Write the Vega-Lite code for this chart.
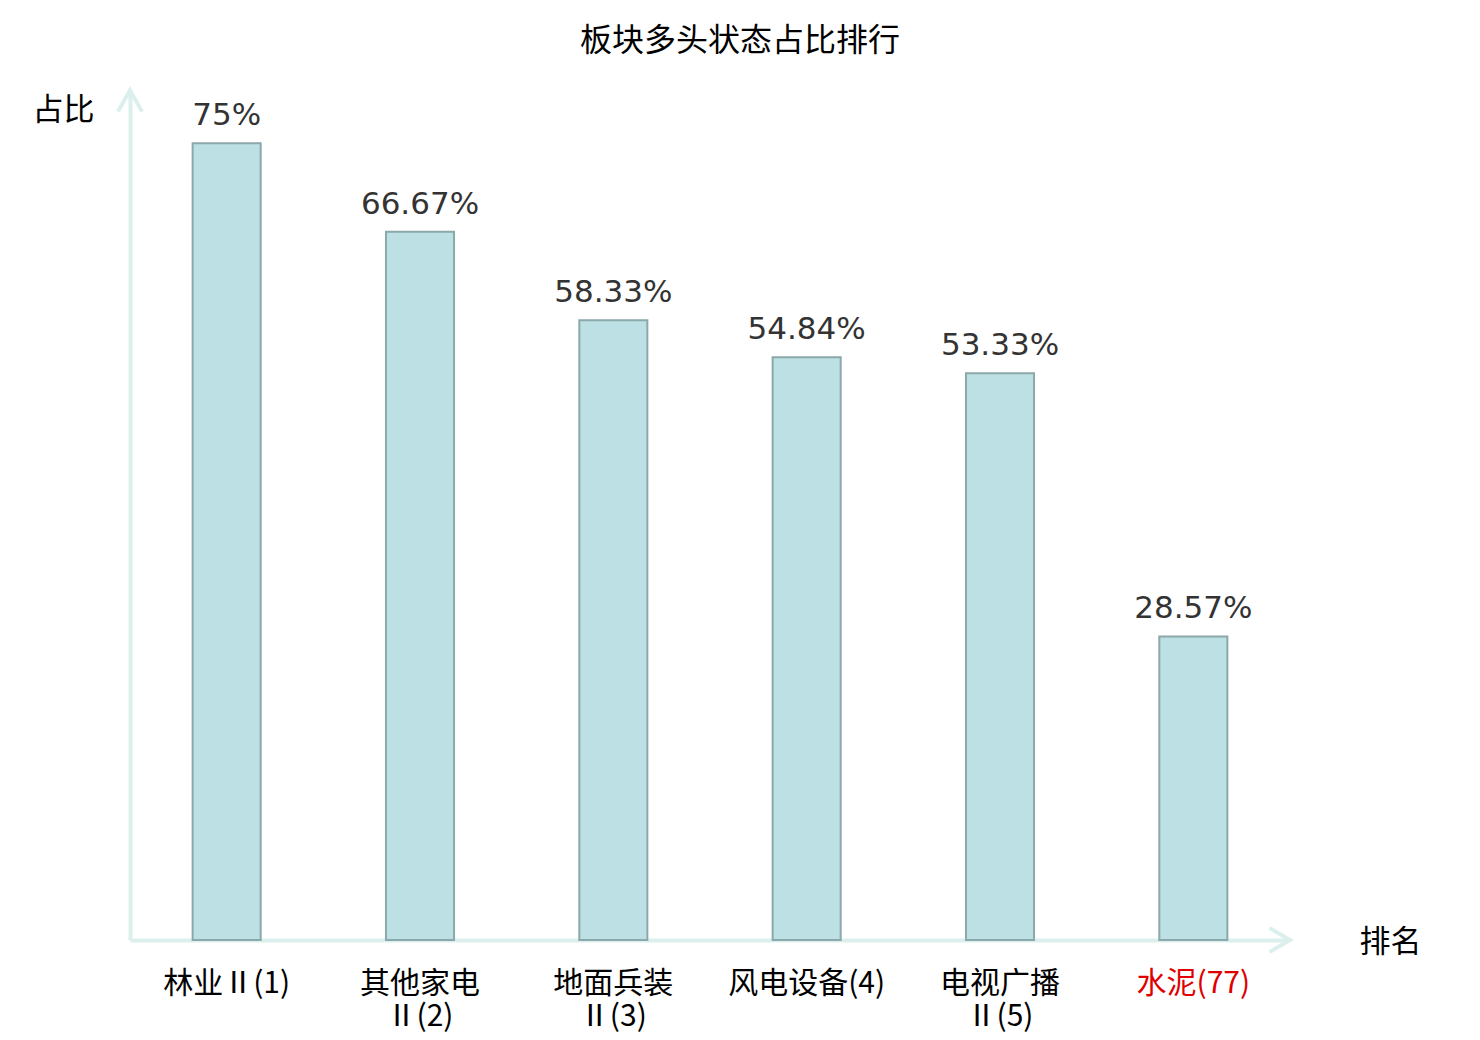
{
  "$schema": "https://vega.github.io/schema/vega-lite/v6.json",
  "width": 1160,
  "height": 850,
  "autosize": "none",
  "padding": {"left": 130, "top": 90, "right": 190, "bottom": 100},
  "background": "white",
  "title": {
    "text": "板块多头状态占比排行",
    "font": "Noto Sans CJK SC",
    "fontSize": 32,
    "fontWeight": "normal",
    "color": "#000000",
    "anchor": "middle",
    "frame": "group",
    "offset": 24,
    "dx": 30
  },
  "datasets": {
    "bars": [
      {"sector": "林业Ⅱ(1)", "share": 0.75},
      {"sector": "其他家电|Ⅱ(2)", "share": 0.6667},
      {"sector": "地面兵装|Ⅱ(3)", "share": 0.5833},
      {"sector": "风电设备(4)", "share": 0.5484},
      {"sector": "电视广播|Ⅱ(5)", "share": 0.5333},
      {"sector": "水泥(77)", "share": 0.2857}
    ],
    "arrows": [
      {"pos": 0, "val": 0.8, "dir": "up"},
      {"pos": 6, "val": 0, "dir": "right"}
    ]
  },
  "layer": [
    {
      "data": {"name": "bars"},
      "encoding": {
        "x": {
          "field": "sector",
          "type": "nominal",
          "sort": null,
          "scale": {"paddingInner": 0.648, "paddingOuter": 0.324},
          "axis": {
            "title": "排名",
            "titleFont": "Noto Sans CJK SC",
            "titleFontSize": 31,
            "titleFontWeight": "normal",
            "titleColor": "#000000",
            "titleX": 1260,
            "titleY": 2,
            "titleAlign": "center",
            "titleBaseline": "middle",
            "domainColor": "#dbf0ed",
            "domainWidth": 4,
            "ticks": false,
            "labelAngle": 0,
            "labelFont": "Noto Sans CJK SC",
            "labelFontSize": 30,
            "labelLineHeight": 33,
            "labelBaseline": "top",
            "labelPadding": 28,
            "labelLimit": 0,
            "labelOverlap": false,
            "labelBound": false,
            "labelExpr": "split(datum.label, '|')",
            "labelColor": {"expr": "datum.value == '水泥(77)' ? '#e00000' : '#000000'"}
          }
        },
        "y": {
          "field": "share",
          "type": "quantitative",
          "scale": {"domain": [0, 0.8], "nice": false},
          "axis": {
            "title": "占比",
            "titleAngle": 0,
            "titleFont": "Noto Sans CJK SC",
            "titleFontSize": 31,
            "titleFontWeight": "normal",
            "titleColor": "#000000",
            "titleX": -67,
            "titleY": 20,
            "titleAlign": "center",
            "titleBaseline": "middle",
            "domainColor": "#dbf0ed",
            "domainWidth": 4,
            "ticks": false,
            "labels": false,
            "grid": false
          }
        }
      },
      "layer": [
        {
          "mark": {"type": "bar", "fill": "#bce0e3", "stroke": "#8ba8aa", "strokeWidth": 2}
        },
        {
          "mark": {
            "type": "text",
            "font": "DejaVu Sans",
            "fontSize": 31,
            "color": "#333333",
            "baseline": "alphabetic",
            "dy": -18
          },
          "encoding": {
            "text": {"field": "share", "type": "quantitative", "format": ".2~%"}
          }
        }
      ]
    },
    {
      "data": {"name": "arrows"},
      "mark": {"type": "point", "filled": false, "stroke": "#dbf0ed", "strokeWidth": 4, "size": 576, "opacity": 1},
      "encoding": {
        "x": {"field": "pos", "type": "quantitative", "scale": {"domain": [0, 6], "nice": false, "zero": false}, "axis": null},
        "y": {"field": "val", "type": "quantitative", "title": "占比"},
        "shape": {
          "field": "dir",
          "type": "nominal",
          "scale": {"domain": ["up", "right"], "range": ["M -1 1.8 L 0 0 L 1 1.8", "M -1.7 -1 L 0 0 L -1.7 1"]},
          "legend": null
        }
      }
    }
  ],
  "resolve": {"scale": {"x": "independent"}},
  "config": {"view": {"stroke": null}}
}
